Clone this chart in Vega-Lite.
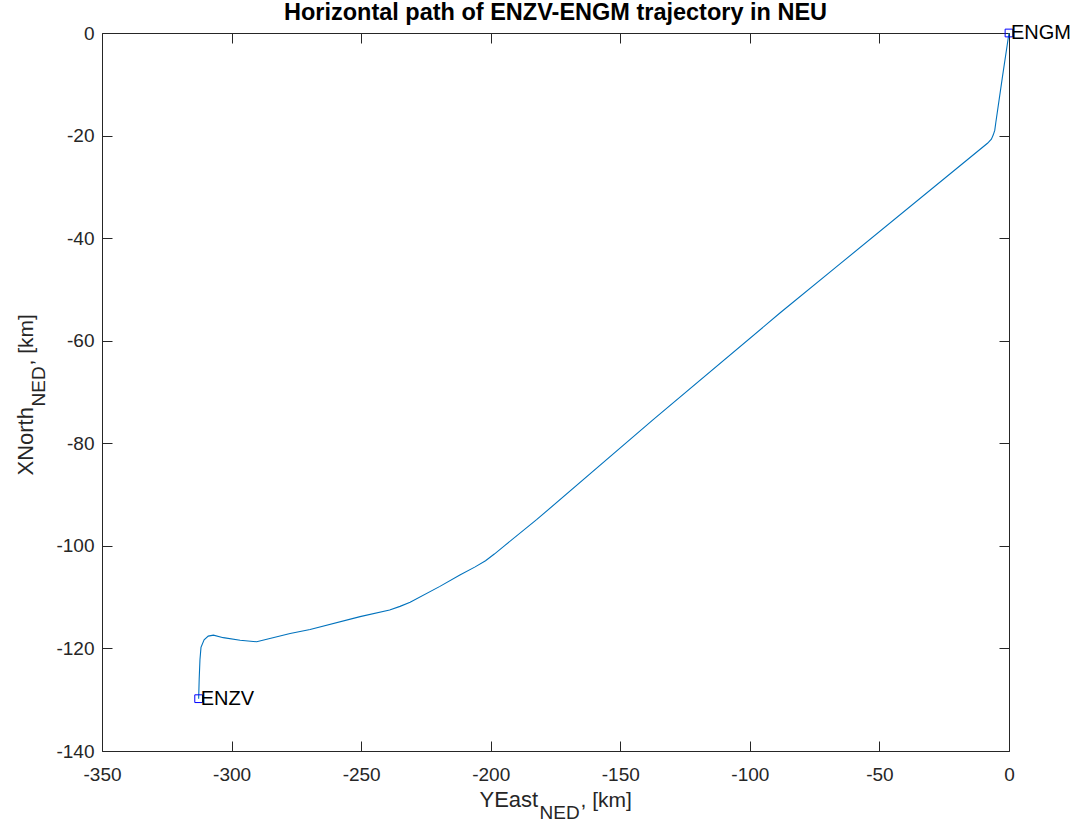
{
  "$schema": "https://vega.github.io/schema/vega-lite/v6.json",
  "autosize": {"type": "none"},
  "padding": {"left": 102, "top": 33, "right": 72, "bottom": 72},
  "width": 907,
  "height": 718,
  "background": "white",
  "title": {
    "text": "Horizontal path of ENZV-ENGM trajectory in NEU",
    "anchor": "middle",
    "font": "Liberation Sans",
    "fontSize": 23.5,
    "fontWeight": "bold",
    "color": "black",
    "baseline": "alphabetic",
    "offset": -5,
    "dy": 15
  },
  "config": {
    "view": {"stroke": null},
    "axis": {
      "grid": false,
      "labelFlush": false,
      "domainColor": "#262626",
      "domainWidth": 1,
      "tickColor": "#262626",
      "tickWidth": 1,
      "labelColor": "#262626",
      "titleColor": "#262626",
      "labelFont": "Liberation Sans",
      "titleFont": "Liberation Sans",
      "labelFontSize": 19,
      "titleFontWeight": "normal"
    }
  },
  "datasets": {
    "path": [
      {"i": 0, "east": 0, "north": 0},
      {"i": 1, "east": -2.6, "north": -8.8},
      {"i": 2, "east": -5.1, "north": -17.5},
      {"i": 3, "east": -5.5, "north": -19.0},
      {"i": 4, "east": -6.1, "north": -19.9},
      {"i": 5, "east": -6.8, "north": -20.7},
      {"i": 6, "east": -8.3, "north": -21.5},
      {"i": 7, "east": -67.1, "north": -45.8},
      {"i": 8, "east": -88.4, "north": -54.6},
      {"i": 9, "east": -137.3, "north": -75.4},
      {"i": 10, "east": -182.3, "north": -94.9},
      {"i": 11, "east": -194.5, "north": -99.9},
      {"i": 12, "east": -198.6, "north": -101.6},
      {"i": 13, "east": -202.0, "north": -102.9},
      {"i": 14, "east": -206.0, "north": -104.1},
      {"i": 15, "east": -211.9, "north": -105.7},
      {"i": 16, "east": -219.6, "north": -107.9},
      {"i": 17, "east": -231.1, "north": -111.0},
      {"i": 18, "east": -235.0, "north": -111.8},
      {"i": 19, "east": -239.0, "north": -112.5},
      {"i": 20, "east": -250.4, "north": -113.8},
      {"i": 21, "east": -269.7, "north": -116.3},
      {"i": 22, "east": -277.4, "north": -117.1},
      {"i": 23, "east": -286.4, "north": -118.2},
      {"i": 24, "east": -290.3, "north": -118.7},
      {"i": 25, "east": -296.7, "north": -118.4},
      {"i": 26, "east": -303.2, "north": -117.9},
      {"i": 27, "east": -307.0, "north": -117.4},
      {"i": 28, "east": -309.0, "north": -117.6},
      {"i": 29, "east": -310.6, "north": -118.3},
      {"i": 30, "east": -311.8, "north": -119.8},
      {"i": 31, "east": -312.2, "north": -122.2},
      {"i": 32, "east": -312.5, "north": -126.0},
      {"i": 33, "east": -312.7, "north": -129.8}
    ],
    "ends": [
      {"name": "ENGM", "east": 0, "north": 0},
      {"name": "ENZV", "east": -312.7, "north": -129.8}
    ]
  },
  "layer": [
    {
      "data": {"name": "path"},
      "mark": {"type": "line", "color": "#0072BD", "strokeWidth": 1.1},
      "encoding": {
        "x": {
          "field": "east", "type": "quantitative",
          "scale": {"domain": [-350, 0], "nice": false, "zero": false},
          "axis": {
            "orient": "bottom",
            "values": [-350, -300, -250, -200, -150, -100, -50, 0],
            "labelExpr": "toString(datum.value)",
            "tickSize": -10,
            "labelPadding": 24,
            "title": "YEast",
            "titleFontSize": 22,
            "titleAlign": "left",
            "titleBaseline": "alphabetic",
            "titleAngle": 0,
            "titleX": 377,
            "titleY": 55
          }
        },
        "y": {
          "field": "north", "type": "quantitative",
          "scale": {"domain": [-140, 0], "nice": false, "zero": false},
          "axis": {
            "orient": "left",
            "values": [-140, -120, -100, -80, -60, -40, -20, 0],
            "labelExpr": "toString(datum.value)",
            "tickSize": -10,
            "labelPadding": 18,
            "title": "XNorth",
            "titleFontSize": 22,
            "titleAlign": "left",
            "titleBaseline": "alphabetic",
            "titleAngle": 270,
            "titleX": -70,
            "titleY": 442
          }
        },
        "order": {"field": "i", "type": "quantitative"}
      }
    },
    {
      "data": {"name": "ends"},
      "mark": {"type": "point", "shape": "square", "filled": false, "color": "#0000FF", "size": 60, "strokeWidth": 1, "opacity": 1},
      "encoding": {
        "x": {
          "field": "east", "type": "quantitative",
          "axis": {
            "orient": "top",
            "values": [-350, -300, -250, -200, -150, -100, -50, 0],
            "tickSize": -10,
            "labels": false,
            "title": null
          }
        },
        "y": {
          "field": "north", "type": "quantitative",
          "axis": {
            "orient": "right",
            "values": [-140, -120, -100, -80, -60, -40, -20, 0],
            "tickSize": -10,
            "labels": false,
            "title": null
          }
        }
      }
    },
    {
      "data": {"name": "ends"},
      "transform": [{"filter": "datum.name === 'ENZV'"}],
      "mark": {"type": "text", "align": "left", "baseline": "middle", "dx": 2, "font": "Liberation Sans", "fontSize": 20, "color": "black"},
      "encoding": {
        "x": {
          "field": "east", "type": "quantitative",
          "axis": {
            "orient": "bottom",
            "labels": false, "ticks": false, "domain": false,
            "title": "NED",
            "titleFontSize": 19,
            "titleAlign": "left",
            "titleBaseline": "alphabetic",
            "titleAngle": 0,
            "titleX": 437,
            "titleY": 67
          }
        },
        "y": {
          "field": "north", "type": "quantitative",
          "axis": {
            "orient": "left",
            "labels": false, "ticks": false, "domain": false,
            "title": "NED",
            "titleFontSize": 19,
            "titleAlign": "left",
            "titleBaseline": "alphabetic",
            "titleAngle": 270,
            "titleX": -58,
            "titleY": 373
          }
        },
        "text": {"field": "name"}
      }
    },
    {
      "data": {"name": "ends"},
      "transform": [{"filter": "datum.name === 'ENGM'"}],
      "mark": {"type": "text", "align": "left", "baseline": "middle", "dx": 2, "font": "Liberation Sans", "fontSize": 20, "color": "black"},
      "encoding": {
        "x": {
          "field": "east", "type": "quantitative",
          "axis": {
            "orient": "bottom",
            "labels": false, "ticks": false, "domain": false,
            "title": ", [km]",
            "titleFontSize": 21,
            "titleAlign": "left",
            "titleBaseline": "alphabetic",
            "titleAngle": 0,
            "titleX": 478,
            "titleY": 55
          }
        },
        "y": {
          "field": "north", "type": "quantitative",
          "axis": {
            "orient": "left",
            "labels": false, "ticks": false, "domain": false,
            "title": ", [km]",
            "titleFontSize": 21,
            "titleAlign": "left",
            "titleBaseline": "alphabetic",
            "titleAngle": 270,
            "titleX": -70,
            "titleY": 332
          }
        },
        "text": {"field": "name"}
      }
    }
  ],
  "resolve": {"axis": {"x": "independent", "y": "independent"}}
}
